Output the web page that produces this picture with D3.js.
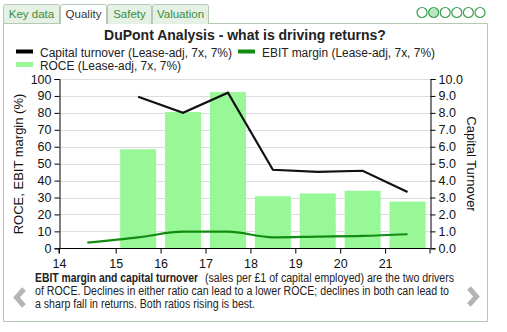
<!DOCTYPE html>
<html>
<head>
<meta charset="utf-8">
<script src="https://cdn.jsdelivr.net/npm/d3@7"></script>
<style>
  body { margin: 0; background: #fff; font-family: "Liberation Sans", Arial, sans-serif; }
  svg { display: block; }
</style>
</head>
<body>
<svg width="507" height="332"></svg>
<script>
// data
const tabs = ['Key data', 'Quality', 'Safety', 'Valuation'];
const barYears = [15.5, 16.5, 17.5, 18.5, 19.5, 20.5, 21.5];
const roce = [58.5, 80.5, 92.3, 30.8, 32.4, 34.0, 27.6];
const turnover = [8.95, 8.0, 9.19, 4.64, 4.52, 4.58, 3.33];
const marginYears = [14.5, 15.5, 16.5, 17.5, 18.5, 19.5, 20.5, 21.5];
const ebitMargin = [3.3, 6.4, 9.8, 9.8, 6.5, 6.9, 7.3, 8.3];
const xTicks = [14, 15, 16, 17, 18, 19, 20, 21];
const leftTicks = d3.range(0, 101, 10);
const rightTicks = d3.range(0, 10.1, 1);

const svg = d3.select('svg');
const tabGreen = '#3c8c3c';
const border = '#b4c8b4';

// tabs
const tabX = [3, 60, 107, 152, 209];
tabs.forEach((t, i) => {
  const active = i === 1;
  svg.append('path')
    .attr('d', `M${tabX[i] + 0.5},24 V6.5 q0,-2 2,-2 H${tabX[i + 1] - 2.5} q2,0 2,2 V24`)
    .attr('fill', active ? '#fff' : '#e4f1e4')
    .attr('stroke', border);
  svg.append('text')
    .attr('x', (tabX[i] + tabX[i + 1]) / 2).attr('y', 18)
    .attr('text-anchor', 'middle')
    .attr('font-size', 11.5)
    .attr('fill', active ? '#333' : tabGreen)
    .text(t);
});

// panel
svg.append('path')
  .attr('d', 'M209,23.5 H487.5 V321.5 H3.5 V23.5 H60')
  .attr('fill', 'none').attr('stroke', border);

// page dots
d3.range(6).forEach(i => {
  svg.append('circle')
    .attr('cx', 422 + i * 11.6).attr('cy', 12.5).attr('r', 5)
    .attr('fill', i === 1 ? '#b8e8c0' : '#fff')
    .attr('stroke', '#3ca050').attr('stroke-width', 1.2);
});

// title
svg.append('text')
  .attr('x', 245).attr('y', 40)
  .attr('text-anchor', 'middle')
  .attr('font-size', 14).attr('font-weight', 'bold').attr('fill', '#222')
  .text('DuPont Analysis - what is driving returns?');

// legend
const legend = [
  { label: 'Capital turnover (Lease-adj, 7x, 7%)', color: '#000', x: 16, y: 52, h: 4, w: 192 },
  { label: 'EBIT margin (Lease-adj, 7x, 7%)', color: '#108c10', x: 238, y: 52, h: 4, w: 173 },
  { label: 'ROCE (Lease-adj, 7x, 7%)', color: '#98f898', x: 16, y: 65, h: 5, w: 141 }
];
legend.forEach(d => {
  svg.append('rect').attr('x', d.x).attr('y', d.y - d.h / 2 - 0.5)
    .attr('width', 17).attr('height', d.h).attr('fill', d.color);
  svg.append('text').attr('x', d.x + 24).attr('y', d.y + 4.5)
    .attr('font-size', 12.5).attr('fill', '#222')
    .attr('textLength', d.w).attr('lengthAdjust', 'spacingAndGlyphs')
    .text(d.label);
});

// scales
const x = d3.scaleLinear().domain([14, 15, 22]).range([59, 115.7, 430]);
const yL = d3.scaleLinear().domain([0, 100]).range([248.3, 79]);
const yR = d3.scaleLinear().domain([0, 10]).range([248.3, 79]);

// grid
svg.append('g').selectAll('line')
  .data(leftTicks.slice(1))
  .join('line')
  .attr('x1', 59).attr('x2', 430)
  .attr('y1', d => Math.round(yL(d)) + 0.5).attr('y2', d => Math.round(yL(d)) + 0.5)
  .attr('stroke', '#ddd');

// bars
const bw = 36;
svg.append('g').selectAll('rect')
  .data(barYears)
  .join('rect')
  .attr('x', (d, i) => x(d) - bw / 2)
  .attr('y', (d, i) => yL(roce[i]))
  .attr('width', bw)
  .attr('height', (d, i) => yL(0) - yL(roce[i]))
  .attr('fill', '#98f898');

// EBIT margin line
svg.append('path')
  .datum(marginYears.map((d, i) => [d, ebitMargin[i]]))
  .attr('d', d3.line().x(d => x(d[0])).y(d => yL(d[1])).curve(d3.curveMonotoneX))
  .attr('fill', 'none').attr('stroke', '#108c10').attr('stroke-width', 2.2);

// capital turnover line
svg.append('path')
  .datum(barYears.map((d, i) => [d, turnover[i]]))
  .attr('d', d3.line().x(d => x(d[0])).y(d => yR(d[1])))
  .attr('fill', 'none').attr('stroke', '#111').attr('stroke-width', 2.2);

// axes
const axStyle = g => {
  g.selectAll('text').attr('font-size', 12.5).attr('fill', '#111')
    .attr('font-family', '"Liberation Sans", Arial, sans-serif');
  g.selectAll('line, path').attr('stroke', '#000');
};
svg.append('g').attr('transform', 'translate(59.5,0)')
  .call(d3.axisLeft(yL).tickValues(leftTicks).tickSize(5).tickSizeOuter(5).tickFormat(d3.format('d')))
  .call(axStyle);
svg.append('g').attr('transform', 'translate(430.5,0)')
  .call(d3.axisRight(yR).tickValues(rightTicks).tickSize(5).tickSizeOuter(5).tickFormat(d3.format('.1f')))
  .call(axStyle);
svg.append('g').attr('transform', 'translate(0,248.5)')
  .call(d3.axisBottom(x).tickValues(xTicks).tickSize(5).tickSizeOuter(0).tickFormat(d3.format('d')))
  .call(axStyle)
  .call(g => g.select('.domain').attr('d', 'M59,5V0H430V5'))
  .call(g => g.selectAll('text').attr('y', 19).attr('dy', 0));

// axis titles
svg.append('text')
  .attr('transform', 'translate(23,164) rotate(-90)')
  .attr('text-anchor', 'middle').attr('font-size', 13).attr('fill', '#111')
  .text('ROCE, EBIT margin (%)');
svg.append('text')
  .attr('transform', 'translate(467,164) rotate(90)')
  .attr('text-anchor', 'middle').attr('font-size', 13).attr('fill', '#111')
  .text('Capital Turnover');

// caption, each piece its own text squeezed to the width seen in the picture
const cap = [
  { x: 35, y: 282, w: 163, b: true, t: 'EBIT margin and capital turnover' },
  { x: 205, y: 282, w: 249, t: '(sales per £1 of capital employed) are the two drivers' },
  { x: 35, y: 295, w: 414, t: 'of ROCE. Declines in either ratio can lead to a lower ROCE; declines in both can lead to' },
  { x: 35, y: 308, w: 220, t: 'a sharp fall in returns. Both ratios rising is best.' }
];
cap.forEach(c => {
  svg.append('text')
    .attr('x', c.x).attr('y', c.y)
    .attr('font-size', 12).attr('fill', '#222')
    .attr('font-weight', c.b ? 'bold' : null)
    .attr('textLength', c.w).attr('lengthAdjust', 'spacingAndGlyphs')
    .text(c.t);
});

// nav chevrons
svg.append('path').attr('d', 'M24,289 L16.5,297.5 L24,306')
  .attr('fill', 'none').attr('stroke', '#b4b4b4').attr('stroke-width', 5);
svg.append('path').attr('d', 'M469,288 L476.5,296.5 L469,305')
  .attr('fill', 'none').attr('stroke', '#b4b4b4').attr('stroke-width', 5);
</script>
</body>
</html>
